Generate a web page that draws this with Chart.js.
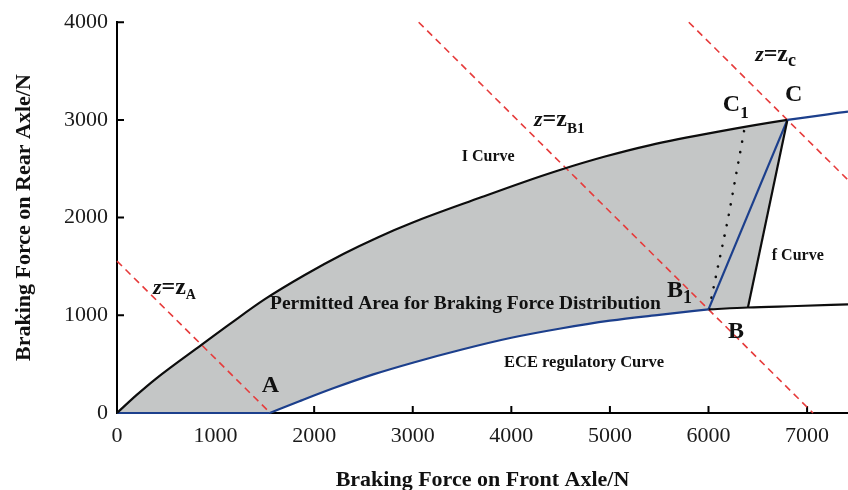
<!DOCTYPE html>
<html>
<head>
<meta charset="utf-8">
<script src="https://cdn.jsdelivr.net/npm/chart.js@4.4.1/dist/chart.umd.min.js"></script>
<style>
  html, body { margin: 0; padding: 0; background: #fff; }
  canvas { display: block; }
</style>
</head>
<body>
<canvas id="chart" width="848" height="490"></canvas>
<script>
// front axle force (N) / rear axle force (N)
const iCurveX = [0, 200, 400, 860, 1150, 1500, 1900, 2300, 2650, 3000, 3700, 4100, 4500, 4950, 5400, 6100, 6800, 7415];
const iCurveY = [0, 185, 355, 700, 915, 1165, 1410, 1630, 1800, 1950, 2210, 2355, 2490, 2625, 2740, 2880, 3000, 3084];

// ECE regulatory curve: flat up to A, curved A -> B, nearly flat after B
const eceFlatX = [0, 1550];
const eceFlatY = [0, 0];
const eceX = [1550, 1850, 2200, 2600, 3000, 3500, 4000, 4500, 5000, 5500, 6000];
const eceY = [0, 120, 255, 395, 515, 650, 770, 865, 945, 1005, 1060];
const eceTailX = [6000, 6400, 6900, 7415];
const eceTailY = [1060, 1080, 1095, 1112];

// f curve (straight) and the B-C line
const fLineX = [6400, 6800];
const fLineY = [1080, 3000];
const bcLineX = [6000, 6800];
const bcLineY = [1060, 3000];

// B1 -> C1 (dotted)
const b1c1X = [6030, 6102, 6194, 6278, 6365];
const b1c1Y = [1180, 1528, 1969, 2429, 2910];

// constant deceleration lines z = zA, zB1, zC  (Fx + Fy = const)
const zA = [[0, 1555], [1555, 0]];
const zB1 = [[3060, 4000], [7060, 0]];
const zC = [[5800, 4000], [7415, 2385]];

const xTicks = [0, 1000, 2000, 3000, 4000, 5000, 6000, 7000];
const yTicks = [0, 1000, 2000, 3000, 4000];

const pointC = 6800;   // I curve turns blue after C

const BLACK = '#0d0d0d';
const BLUE = '#1c3f8c';
const RED = '#e63b3b';
const GREY = '#c4c6c6';
const SERIF = '"Liberation Serif", "Times New Roman", serif';

const pts = (xs, ys) => xs.map((x, i) => ({ x, y: ys[i] }));
const pairs = arr => arr.map(([x, y]) => ({ x, y }));

const iPts = pts(iCurveX, iCurveY);

// shaded region: under the I curve up to C, above the ECE curve / f curve
const fillUpper = iPts.filter(p => p.x <= pointC);
const fillLower = pts(eceFlatX, eceFlatY)
  .concat(pts(eceX, eceY).slice(1))
  .concat(pts(eceTailX, eceTailY).slice(1).filter(p => p.x <= fLineX[0]))
  .concat(pts(fLineX, fLineY).slice(1));

// text labels: x/y in axis units (left edge, baseline), dy = subscript shift in px
const annotations = [
  { x: 1468, y: 217, parts: [{ text: 'A', size: 24 }] },
  { x: 6199, y: 765, parts: [{ text: 'B', size: 24 }] },
  { x: 5580, y: 1184, parts: [{ text: 'B', size: 24 }, { text: '1', size: 18, dy: 6 }] },
  { x: 6145, y: 3092, parts: [{ text: 'C', size: 24 }, { text: '1', size: 17, dy: 7 }] },
  { x: 6777, y: 3194, parts: [{ text: 'C', size: 24 }] },
  { x: 365, y: 1214, parts: [{ text: 'z', size: 22, italic: true }, { text: '=z', size: 24 }, { text: 'A', size: 14, dy: 5 }] },
  { x: 4230, y: 2939, parts: [{ text: 'z', size: 22, italic: true }, { text: '=z', size: 24 }, { text: 'B1', size: 15, dy: 7 }] },
  { x: 6473, y: 3602, parts: [{ text: 'z', size: 22, italic: true }, { text: '=z', size: 24 }, { text: 'c', size: 18, dy: 5 }] },
  { x: 3497, y: 2582, parts: [{ text: 'I Curve', size: 16 }] },
  { x: 6642, y: 1561, parts: [{ text: 'f Curve', size: 16 }] },
  { x: 3926, y: 469, parts: [{ text: 'ECE regulatory Curve', size: 16.5 }] },
  { x: 1552, y: 1061, parts: [{ text: 'Permitted Area for Braking Force Distribution', size: 19.5 }] }
];

const labelPlugin = {
  id: 'curveLabels',
  afterDatasetsDraw(chart) {
    const { ctx, scales: { x, y } } = chart;
    ctx.save();
    ctx.fillStyle = '#111';
    ctx.textAlign = 'left';
    ctx.textBaseline = 'alphabetic';
    annotations.forEach(a => {
      let px = x.getPixelForValue(a.x);
      const py = y.getPixelForValue(a.y);
      a.parts.forEach(p => {
        ctx.font = (p.italic ? 'italic ' : '') + 'bold ' + p.size + 'px ' + SERIF;
        ctx.fillText(p.text, px, py + (p.dy || 0));
        px += ctx.measureText(p.text).width;
      });
    });
    ctx.restore();
  }
};

// tick marks pointing into the plot
const innerTicks = {
  id: 'innerTicks',
  beforeDatasetsDraw(chart) {
    const { ctx, chartArea: a, scales: { x, y } } = chart;
    ctx.save();
    ctx.strokeStyle = '#000';
    ctx.lineWidth = 2;
    ctx.beginPath();
    x.ticks.forEach(t => {
      const p = x.getPixelForValue(t.value);
      ctx.moveTo(p, a.bottom);
      ctx.lineTo(p, a.bottom - 7);
    });
    y.ticks.forEach(t => {
      const p = y.getPixelForValue(t.value);
      ctx.moveTo(a.left, p);
      ctx.lineTo(a.left + 7, p);
    });
    ctx.stroke();
    ctx.restore();
  }
};

const line = (data, color, extra) => Object.assign({
  data,
  showLine: true,
  borderColor: color,
  borderWidth: 2.2,
  pointRadius: 0,
  fill: false,
  order: 1
}, extra || {});

const dashed = arr => line(pairs(arr), RED, { borderWidth: 1.6, borderDash: [7, 5], order: 5 });

new Chart(document.getElementById('chart'), {
  type: 'scatter',
  data: {
    datasets: [
      line(fillLower, 'rgba(0,0,0,0)', { borderWidth: 0, order: 10 }),
      line(fillUpper, 'rgba(0,0,0,0)', {
        borderWidth: 0, order: 9, fill: '-1', backgroundColor: GREY, cubicInterpolationMode: 'monotone'
      }),
      dashed(zA),
      dashed(zB1),
      dashed(zC),
      line(iPts, BLACK, {
        cubicInterpolationMode: 'monotone',
        segment: { borderColor: c => c.p0.parsed.x >= pointC ? BLUE : BLACK }
      }),
      line(pts(eceFlatX, eceFlatY), BLUE),
      line(pts(eceX, eceY), BLUE, { cubicInterpolationMode: 'monotone' }),
      line(pts(eceTailX, eceTailY), BLACK, { cubicInterpolationMode: 'monotone' }),
      line(pts(fLineX, fLineY), BLACK),
      line(pts(bcLineX, bcLineY), BLUE),
      line(pts(b1c1X, b1c1Y), BLACK, {
        borderWidth: 2.6, borderDash: [0.1, 10.5], borderCapStyle: 'round', cubicInterpolationMode: 'monotone'
      })
    ]
  },
  options: {
    responsive: false,
    animation: false,
    events: [],
    clip: 3,
    layout: { padding: { top: 21, right: 0, bottom: 0, left: 0 } },
    plugins: {
      legend: { display: false },
      tooltip: { enabled: false }
    },
    scales: {
      x: {
        type: 'linear',
        min: 0,
        max: 7415,
        afterBuildTicks: s => { s.ticks = xTicks.map(v => ({ value: v })); },
        afterFit: s => { s.height = 77; },
        grid: { display: true, drawOnChartArea: false, drawTicks: false },
        border: { color: '#000', width: 2 },
        ticks: {
          color: '#1a1a1a',
          padding: 10,
          maxRotation: 0,
          font: { family: SERIF, size: 22 },
          callback: v => String(v)
        },
        title: {
          display: true,
          text: 'Braking Force on Front Axle/N',
          color: '#111',
          font: { family: SERIF, size: 22, weight: 'bold', lineHeight: 0.6 },
          padding: { top: 0, bottom: 3.5 }
        }
      },
      y: {
        type: 'linear',
        min: 0,
        max: 4000,
        afterBuildTicks: s => { s.ticks = yTicks.map(v => ({ value: v })); },
        afterFit: s => { s.width = 117; },
        grid: { display: true, drawOnChartArea: false, drawTicks: false },
        border: { color: '#000', width: 2 },
        ticks: {
          color: '#1a1a1a',
          padding: 9,
          font: { family: SERIF, size: 22 },
          callback: v => String(v)
        },
        title: {
          display: true,
          text: 'Braking Force on Rear Axle/N',
          color: '#111',
          font: { family: SERIF, size: 22, weight: 'bold', lineHeight: 0.6 },
          padding: { top: 17.5, bottom: 0 }
        }
      }
    }
  },
  plugins: [innerTicks, labelPlugin]
});
</script>
</body>
</html>
